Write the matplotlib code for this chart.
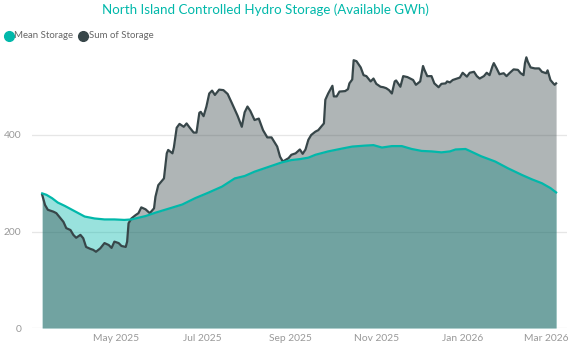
import matplotlib
matplotlib.use("Agg")
import matplotlib.pyplot as plt
import matplotlib.dates as mdates
import pandas as pd
from matplotlib.lines import Line2D

# ---------------- data ----------------
sum_dates = [
    "2025-03-10", "2025-03-12", "2025-03-14", "2025-03-18", "2025-03-20", "2025-03-23",
    "2025-03-25", "2025-03-27", "2025-03-30", "2025-04-01", "2025-04-03", "2025-04-06",
    "2025-04-08", "2025-04-10", "2025-04-13", "2025-04-15", "2025-04-17", "2025-04-20",
    "2025-04-23", "2025-04-26", "2025-04-28", "2025-04-30", "2025-05-03", "2025-05-05",
    "2025-05-08", "2025-05-09", "2025-05-10", "2025-05-12", "2025-05-15", "2025-05-17",
    "2025-05-19", "2025-05-22", "2025-05-25", "2025-05-28", "2025-05-29", "2025-05-31",
    "2025-06-02", "2025-06-04", "2025-06-06", "2025-06-07", "2025-06-10", "2025-06-11",
    "2025-06-13", "2025-06-15", "2025-06-18", "2025-06-20", "2025-06-22", "2025-06-25",
    "2025-06-27", "2025-06-29", "2025-06-30", "2025-07-02", "2025-07-04", "2025-07-06",
    "2025-07-08", "2025-07-10", "2025-07-13", "2025-07-16", "2025-07-19", "2025-07-22",
    "2025-07-26", "2025-07-29", "2025-07-31", "2025-08-02", "2025-08-04", "2025-08-07",
    "2025-08-10", "2025-08-13", "2025-08-16", "2025-08-19", "2025-08-23", "2025-08-25",
    "2025-08-27", "2025-08-31", "2025-09-02", "2025-09-05", "2025-09-08", "2025-09-10",
    "2025-09-12", "2025-09-14", "2025-09-16", "2025-09-19", "2025-09-21", "2025-09-25",
    "2025-09-26", "2025-09-28", "2025-10-01", "2025-10-02", "2025-10-04", "2025-10-06",
    "2025-10-10", "2025-10-12", "2025-10-13", "2025-10-15", "2025-10-16", "2025-10-18",
    "2025-10-21", "2025-10-23", "2025-10-25", "2025-10-28", "2025-10-30", "2025-11-01",
    "2025-11-04", "2025-11-06", "2025-11-08", "2025-11-10", "2025-11-12", "2025-11-14",
    "2025-11-15", "2025-11-18", "2025-11-20", "2025-11-23", "2025-11-25", "2025-11-27",
    "2025-11-29", "2025-12-02", "2025-12-04", "2025-12-05", "2025-12-07", "2025-12-10",
    "2025-12-12", "2025-12-15", "2025-12-17", "2025-12-20", "2025-12-21", "2025-12-23",
    "2025-12-25", "2025-12-28", "2025-12-30", "2026-01-01", "2026-01-04", "2026-01-06",
    "2026-01-09", "2026-01-11", "2026-01-13", "2026-01-16", "2026-01-18", "2026-01-20",
    "2026-01-22", "2026-01-23", "2026-01-25", "2026-01-27", "2026-01-30", "2026-02-01",
    "2026-02-03", "2026-02-06", "2026-02-09", "2026-02-11", "2026-02-13", "2026-02-14",
    "2026-02-15", "2026-02-16", "2026-02-18", "2026-02-21", "2026-02-24", "2026-02-26",
    "2026-03-01", "2026-03-02", "2026-03-04", "2026-03-06", "2026-03-07", "2026-03-08",
]
sum_storage = [
    276, 255, 245, 241, 238, 227,
    220, 207, 203, 193, 187, 193,
    186, 168, 164, 162, 158, 165,
    176, 172, 166, 179, 176, 170,
    168, 179, 217, 227, 234, 238,
    250, 246, 238, 248, 272, 296,
    303, 310, 362, 369, 362, 374,
    415, 423, 417, 424, 416, 405,
    405, 446, 448, 439, 459, 486,
    492, 483, 494, 493, 485, 466,
    440, 417, 447, 459, 450, 431,
    434, 410, 395, 395, 376, 355,
    345, 352, 359, 362, 370, 361,
    370, 390, 400, 407, 410, 424,
    473, 486, 502, 480, 480, 490,
    491, 495, 507, 515, 555, 553,
    540, 524, 522, 511, 517, 506,
    500, 499, 497, 493, 486, 511,
    513, 500, 522, 520, 517, 514,
    504, 511, 543, 535, 522, 522,
    507, 499, 506, 507, 511, 509,
    514, 517, 519, 529, 521, 529,
    531, 522, 517, 522, 529, 524,
    542, 549, 538, 526, 528, 522,
    528, 536, 535, 528, 524, 549,
    561, 552, 540, 538, 538, 531,
    528, 534, 514, 507, 504, 507,
]

mean_dates = [
    "2025-03-10", "2025-03-13", "2025-03-17", "2025-03-21", "2025-03-26", "2025-04-02",
    "2025-04-09", "2025-04-16", "2025-04-23", "2025-04-30", "2025-05-07", "2025-05-12",
    "2025-05-22", "2025-05-29", "2025-06-07", "2025-06-17", "2025-06-26", "2025-07-05",
    "2025-07-15", "2025-07-24", "2025-07-31", "2025-08-07", "2025-08-17", "2025-08-26",
    "2025-09-02", "2025-09-08", "2025-09-14", "2025-09-19", "2025-09-28", "2025-10-08",
    "2025-10-15", "2025-10-24", "2025-10-30", "2025-11-05", "2025-11-12", "2025-11-19",
    "2025-11-26", "2025-12-03", "2025-12-10", "2025-12-17", "2025-12-23", "2025-12-27",
    "2026-01-03", "2026-01-06", "2026-01-14", "2026-01-24", "2026-02-02", "2026-02-12",
    "2026-02-19", "2026-02-26", "2026-03-04", "2026-03-08",
]
mean_storage = [
    279, 276, 269, 260, 253, 242,
    231, 227, 225, 225, 224, 225,
    232, 239, 247, 256, 269, 280,
    293, 310, 315, 324, 334, 343,
    348, 350, 353, 359, 366, 372,
    376, 378, 379, 374, 377, 377,
    371, 367, 366, 364, 366, 370,
    371, 367, 356, 345, 331, 317,
    308, 300, 290, 281,
]

series_names = ["Mean Storage", "Sum of Storage"]
title_text = "North Island Controlled Hydro Storage (Available GWh)"
y_ticks = [0, 200, 400]
x_tick_dates = ["2025-05-01", "2025-07-01", "2025-09-01", "2025-11-01", "2026-01-01", "2026-03-01"]

# ---------------- style ----------------
TEAL = "#01B8AA"
DARK = "#374649"
GRID = "#E6E6E6"
TICK = "#999999"
LEG = "#666666"
plt.rcParams["font.family"] = ["Lato", "DejaVu Sans"]

W, H = 576, 351
fig = plt.figure(figsize=(W / 100, H / 100), dpi=100)

ax_left, ax_right = 32, 567
ax_bottom_px, ax_top_px = 328, 38.5
ax = fig.add_axes([ax_left / W, (H - ax_bottom_px) / H,
                   (ax_right - ax_left) / W, (ax_bottom_px - ax_top_px) / H])

sd = pd.to_datetime(sum_dates)
md = pd.to_datetime(mean_dates)

ax.fill_between(md, 0, mean_storage, color=TEAL, alpha=0.4, linewidth=0, zorder=2)
ax.fill_between(sd, 0, sum_storage, color=DARK, alpha=0.4, linewidth=0, zorder=3)
ax.plot(sd, sum_storage, color=DARK, lw=1.6, zorder=4, solid_joinstyle="round")
ax.plot(md, mean_storage, color=TEAL, lw=1.6, zorder=5, solid_joinstyle="round")

ref = pd.Timestamp("2025-05-01")
ax.set_xlim(mdates.date2num(ref - pd.Timedelta(days=59.2)),
            mdates.date2num(ref + pd.Timedelta(days=318.7)))
ax.set_ylim(0, 600)

ax.set_yticks(y_ticks)
ax.set_xticks(pd.to_datetime(x_tick_dates))
ax.xaxis.set_major_formatter(mdates.DateFormatter("%b %Y"))
ax.grid(axis="y", color=GRID, lw=0.9, zorder=0)
ax.set_axisbelow(True)
for s in ax.spines.values():
    s.set_visible(False)
ax.tick_params(axis="both", length=0, colors=TICK, labelsize=7.4)
ax.tick_params(axis="y", pad=7.5)
ax.tick_params(axis="x", pad=4.5)

# title
fig.text(265 / W, 1 - 9.5 / H, title_text, color=TEAL, fontsize=9.6,
         ha="center", va="center")

# legend (manual)
ly = 1 - 36 / H
fig.add_artist(Line2D([8.7 / W], [ly], marker="o", markersize=7, color=TEAL,
                      linestyle="none", transform=fig.transFigure))
fig.text(14.5 / W, ly, series_names[0], color=LEG, fontsize=6.9, ha="left", va="center")
fig.add_artist(Line2D([83 / W], [ly], marker="o", markersize=7, color=DARK,
                      linestyle="none", transform=fig.transFigure))
fig.text(88.8 / W, ly, series_names[1], color=LEG, fontsize=6.9, ha="left", va="center")

fig.savefig("out.png", dpi=100)
